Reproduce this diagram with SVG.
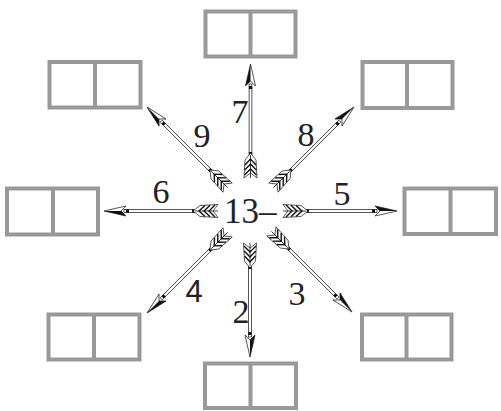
<svg xmlns="http://www.w3.org/2000/svg" width="501" height="411" viewBox="0 0 501 411">
<style>
.box{fill:#fff;stroke:#999;stroke-width:4}
.div{stroke:#999;stroke-width:4}
.lbl{font-family:"Liberation Serif","Times New Roman",serif;font-size:34px;fill:#222;text-anchor:middle}
.ctr{font-family:"Liberation Serif","Times New Roman",serif;font-size:35px;fill:#222}
.ln{fill:#fff;stroke:#111;stroke-width:0.7}
.blk{fill:#111}
.ch{fill:none;stroke:#111;stroke-width:1.4}
</style>
<defs>
<g id="arrow">
<rect class="ln" x="-90" y="-1.4" width="70" height="2.8"/>
<rect class="blk" x="-25" y="-1.6" width="3" height="3.2"/>
<rect class="blk" x="-91" y="-1.6" width="3" height="3.2"/>
<polygon class="ln" points="0,0 -22,-5 -17,0 -22,5"/>
<polygon class="blk" points="0,0 -22,-5 -17,0"/>
<polygon class="ln" points="-89,0 -96,-5.5 -114,-6.5 -109,0 -114,6.5 -96,5.5"/>
<path class="ch" d="M-101,-5.5 L-95,0 L-101,5.5 M-106,-5.8 L-100,0 L-106,5.8 M-111,-6 L-105,0 L-111,6"/>
<line x1="-114" y1="0" x2="-91" y2="0" stroke="#111" stroke-width="0.8"/>
</g>
</defs>
<g id="node-top"><rect class="box" x="205.5" y="11.5" width="90" height="45"/><line class="div" x1="250.5" y1="11.5" x2="250.5" y2="56.5"/></g>
<g id="node-topleft"><rect class="box" x="49.5" y="62" width="91" height="45.5"/><line class="div" x1="95" y1="62" x2="95" y2="107.5"/></g>
<g id="node-topright"><rect class="box" x="362.5" y="62" width="90" height="46"/><line class="div" x1="407" y1="62" x2="407" y2="108"/></g>
<g id="node-left"><rect class="box" x="7" y="188.5" width="91" height="46"/><line class="div" x1="53" y1="188.5" x2="53" y2="234.5"/></g>
<g id="node-right"><rect class="box" x="404.5" y="188.5" width="91.5" height="45.5"/><line class="div" x1="450.5" y1="188.5" x2="450.5" y2="234"/></g>
<g id="node-bottomleft"><rect class="box" x="48.5" y="314.5" width="91" height="45"/><line class="div" x1="94" y1="314.5" x2="94" y2="359.5"/></g>
<g id="node-bottomright"><rect class="box" x="362" y="314.5" width="89.5" height="45"/><line class="div" x1="406.5" y1="314.5" x2="406.5" y2="359.5"/></g>
<g id="node-bottom"><rect class="box" x="205" y="363.5" width="91" height="44.5"/><line class="div" x1="250.5" y1="363.5" x2="250.5" y2="408"/></g>
<g id="node-center"><text class="ctr" x="224" y="223">13–</text></g>
<g id="connectors">
<use href="#arrow" transform="translate(397,211)"/>
<use href="#arrow" transform="translate(104,211) rotate(180)"/>
<use href="#arrow" transform="translate(250.5,64) rotate(-90)"/>
<use href="#arrow" transform="translate(250,357) rotate(90)"/>
<use href="#arrow" transform="translate(354,107) rotate(-45)"/>
<use href="#arrow" transform="translate(147,107) rotate(-135)"/>
<use href="#arrow" transform="translate(147,313) rotate(135)"/>
<use href="#arrow" transform="translate(352,312) rotate(45)"/>
<text class="lbl" x="202" y="147">9</text>
<text class="lbl" x="240" y="123">7</text>
<text class="lbl" x="306" y="146">8</text>
<text class="lbl" x="161" y="203">6</text>
<text class="lbl" x="342" y="205">5</text>
<text class="lbl" x="194" y="302" style="font-family:'Liberation Sans',Arial,sans-serif;font-size:31px">4</text>
<text class="lbl" x="297" y="305">3</text>
<text class="lbl" x="241" y="323">2</text>
</g>
</svg>
